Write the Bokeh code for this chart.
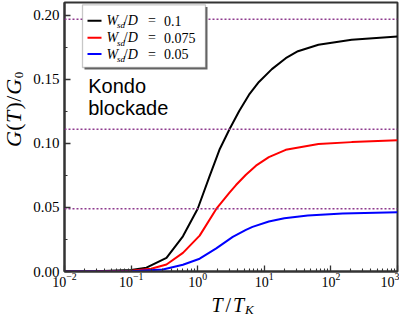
import math
from bokeh.plotting import figure
from bokeh.layouts import column, row
from bokeh.models import (Span, Label, BoxAnnotation, FixedTicker, PrintfTickFormatter,
                          LogTickFormatter, Range1d)
from bokeh.embed import file_html
from bokeh.resources import INLINE

# ---------------- data ----------------
T_01 = [0.01, 0.03, 0.1, 0.17, 0.34, 0.6, 1.0, 1.5, 2.12, 3.0, 4.2, 5.9, 8.3, 13, 21, 32, 65, 205, 1000]
G_01 = [0.0, 0.0002, 0.0012, 0.003, 0.0106, 0.0275, 0.049, 0.074, 0.095, 0.111, 0.1253, 0.138,
        0.148, 0.158, 0.1665, 0.172, 0.177, 0.181, 0.1835]

T_0075 = [0.01, 0.03, 0.1, 0.2, 0.34, 0.6, 1.07, 1.9, 3.0, 3.76, 5.3, 7.5, 11.7, 21, 65, 205, 1000]
G_0075 = [0.0, 0.0001, 0.0005, 0.0022, 0.0055, 0.0145, 0.028, 0.0488, 0.0615, 0.0675, 0.0755,
          0.0826, 0.0893, 0.095, 0.0995, 0.101, 0.1025]

T_005 = [0.01, 0.1, 0.3, 0.6, 1.07, 1.9, 3.36, 5.3, 6.65, 11.7, 20, 45, 150, 1000]
G_005 = [0.0, 0.0002, 0.0015, 0.0053, 0.010, 0.0181, 0.027, 0.0325, 0.0348, 0.0390, 0.0416,
         0.0437, 0.0452, 0.0462]

limits = [0.197, 0.111, 0.049]          # dotted horizontal reference levels
wsd_values = ["0.1", "0.075", "0.05"]   # legend values
colors = ["#000000", "#ff0000", "#0000ff"]

x_major = [0.01, 0.1, 1, 10, 100, 1000]
x_minor = [m * 10.0 ** e for e in range(-2, 3) for m in range(2, 10)]
y_major = [0.0, 0.05, 0.10, 0.15, 0.20]
y_minor = [0.025, 0.075, 0.125, 0.175]

SERIF = "Liberation Serif"


def lab(text, x, y, size, style="normal", font=SERIF, angle=0.0):
    # (x, y): left edge / vertical centre of the text box, screen px from frame bottom-left
    return Label(x=x, y=y, x_units="screen", y_units="screen", text=text,
                 text_font=font, text_font_size=f"{size}px", text_font_style=style,
                 text_align="left", text_baseline="middle", angle=angle,
                 text_color="black")


def blank(w, h):
    f = figure(width=w, height=h, x_range=Range1d(0, 1), y_range=Range1d(0, 1),
               x_axis_location=None, y_axis_location=None,
               output_backend="svg", toolbar_location=None, min_border=0)
    f.grid.visible = False
    f.outline_line_color = None
    f.background_fill_color = "white"
    f.border_fill_color = "white"
    return f


# ---------------- main figure ----------------
p = figure(width=373, height=293, x_axis_type="log",
           x_range=Range1d(0.01, 1000), y_range=Range1d(0, 0.21),
           output_backend="svg", toolbar_location=None,
           min_border_left=38, min_border_right=2, min_border_top=2, min_border_bottom=22)
p.grid.visible = False
p.background_fill_color = "white"
p.border_fill_color = "white"
p.outline_line_color = "#333333"
p.outline_line_width = 2
p.outline_line_alpha = 1

p.xaxis.ticker = FixedTicker(ticks=x_major, minor_ticks=x_minor)
p.xaxis.formatter = LogTickFormatter()
p.yaxis.ticker = FixedTicker(ticks=y_major, minor_ticks=y_minor)
p.yaxis.formatter = PrintfTickFormatter(format="%.2f")

for ax in (p.xaxis[0], p.yaxis[0]):
    ax.axis_line_color = "#333333"
    ax.axis_line_width = 2
    ax.major_tick_in = 6
    ax.major_tick_out = 0
    ax.minor_tick_in = 3
    ax.minor_tick_out = 0
    ax.major_tick_line_color = "#333333"
    ax.minor_tick_line_color = "#333333"
    ax.major_tick_line_width = 1.3
    ax.minor_tick_line_width = 1.1
    ax.major_label_text_font = SERIF
    ax.major_label_text_color = "black"
p.yaxis.major_label_text_font_size = "15px"
p.yaxis.major_label_standoff = 5
p.xaxis.major_label_text_font_size = "14px"
p.xaxis.major_label_standoff = 1

# dotted reference levels
for v in limits:
    p.add_layout(Span(location=v, dimension="width", line_color="#8e3a8e",
                      line_dash="2 2", line_width=1.5))

# curves
for T, G, c in ((T_01, G_01, colors[0]), (T_0075, G_0075, colors[1]), (T_005, G_005, colors[2])):
    p.line(T, G, line_color=c, line_width=2)

# legend box (screen units from the frame's bottom-left)
p.add_layout(BoxAnnotation(left=20, right=143, top=264.6, bottom=202,
                           left_units="screen", right_units="screen",
                           top_units="screen", bottom_units="screen",
                           fill_color="#666666", fill_alpha=1, line_color=None))
p.add_layout(BoxAnnotation(left=18, right=141, top=266.6, bottom=204,
                           left_units="screen", right_units="screen",
                           top_units="screen", bottom_units="screen",
                           fill_color="white", fill_alpha=1, line_color="#444444",
                           line_width=1.3))
rows = [250.8, 233.7, 217.5]
for yc, c, val in zip(rows, colors, wsd_values):
    p.add_layout(BoxAnnotation(left=23, right=37, top=yc + 1, bottom=yc - 1,
                               left_units="screen", right_units="screen",
                               top_units="screen", bottom_units="screen",
                               fill_color=c, fill_alpha=1, line_color=None))
    p.add_layout(lab("W", 42, yc, 14, "italic"))
    p.add_layout(lab("sd", 52.5, yc - 4.7, 9, "italic"))
    p.add_layout(lab("/", 59.3, yc, 14))
    p.add_layout(lab("D", 63.3, yc, 14, "italic"))
    p.add_layout(lab("=", 83.5, yc, 14))
    p.add_layout(lab(val, 99.5, yc, 14))

# annotation text
p.add_layout(lab("Kondo", 23.7, 185.4, 20, font="Liberation Sans"))
p.add_layout(lab("blockade", 23.7, 163.5, 20, font="Liberation Sans"))

# ---------------- y axis title strip: G(T)/G_0 ----------------
ylab = blank(26, 293)
a = math.pi / 2
yc_main = 13.0
ylab.add_layout(lab("G", yc_main, 124.4, 22, "italic", angle=a))
ylab.add_layout(lab("(", yc_main, 140.8, 22, angle=a))
ylab.add_layout(lab("T", yc_main, 148.4, 22, "italic", angle=a))
ylab.add_layout(lab(")", yc_main, 162.1, 22, angle=a))
ylab.add_layout(lab("/", yc_main, 169.7, 22, angle=a))
ylab.add_layout(lab("G", yc_main, 176.8, 22, "italic", angle=a))
ylab.add_layout(lab("0", 18.6, 193.2, 13, angle=a))

# ---------------- x axis title strip: T/T_K ----------------
xlab = blank(399, 23)
xlab.add_layout(lab("T", 211.0, 11.5, 20, "italic"))
xlab.add_layout(lab("/", 225.0, 11.5, 20))
xlab.add_layout(lab("T", 232.5, 11.5, 20, "italic"))
xlab.add_layout(lab("K", 244.5, 7.1, 13, "italic"))

layout = column(row(ylab, p, spacing=0), xlab, spacing=0)

open("out.html", "w").write(file_html(layout, INLINE))
